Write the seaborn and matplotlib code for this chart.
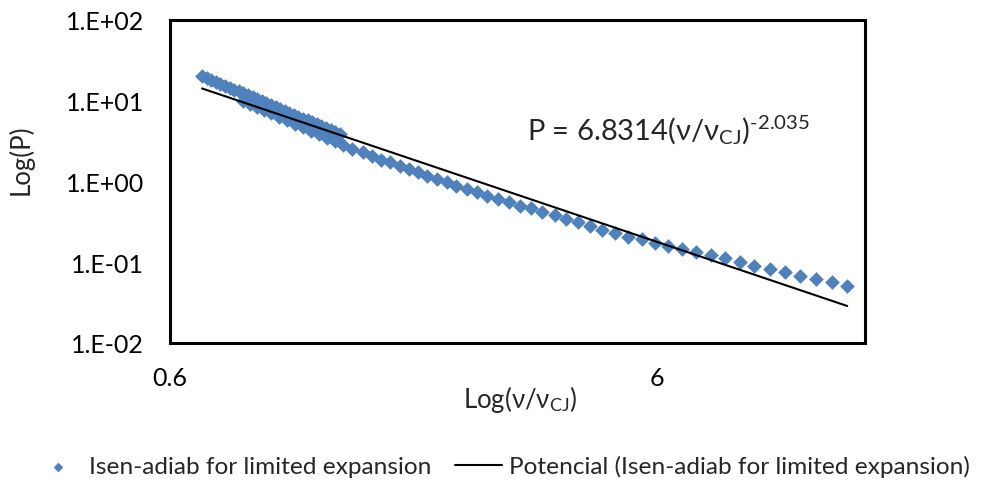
import numpy as np
import pandas as pd
import matplotlib
matplotlib.use("Agg")
import matplotlib.pyplot as plt
from matplotlib.ticker import NullLocator
import seaborn as sns

# ---- data ----
upper_x = [0.698, 0.713, 0.729, 0.745, 0.761, 0.778, 0.795, 0.812, 0.830, 0.848,
           0.867, 0.886, 0.905, 0.925, 0.946, 0.966, 0.988, 1.009, 1.031, 1.054,
           1.077, 1.101, 1.125, 1.150, 1.175, 1.201, 1.227, 1.254, 1.281, 1.310, 1.338]
upper_p = [20.25, 19.16, 18.14, 17.16, 16.24, 15.37, 14.55, 13.77, 13.03, 12.33,
           11.67, 11.04, 10.45, 9.89, 9.36, 8.86, 8.38, 7.93, 7.51, 7.10,
           6.72, 6.36, 6.02, 5.70, 5.39, 5.10, 4.83, 4.57, 4.33, 4.09, 3.875]
lower_x = [0.847, 0.875, 0.905, 0.935, 0.966, 1.004, 1.042, 1.082, 1.124, 1.167,
           1.212, 1.259, 1.307, 1.357, 1.416, 1.494, 1.561, 1.629, 1.700, 1.776,
           1.856, 1.937, 2.021, 2.118, 2.221, 2.321, 2.440, 2.558, 2.681, 2.824,
           2.975, 3.129, 3.307, 3.483, 3.691, 3.900, 4.119, 4.368, 4.629, 4.921,
           5.233, 5.589, 5.943, 6.319, 6.751, 7.212, 7.742, 8.271, 8.879, 9.483,
           10.23, 10.98, 11.78, 12.70, 13.70, 14.71]
lower_p = [9.93, 9.09, 8.32, 7.64, 6.99, 6.33, 5.71, 5.17, 4.68, 4.23,
           3.83, 3.46, 3.13, 2.83, 2.526, 2.299, 2.051, 1.862, 1.729, 1.569,
           1.428, 1.300, 1.180, 1.074, 0.977, 0.887, 0.808, 0.735, 0.667, 0.607,
           0.553, 0.502, 0.466, 0.423, 0.385, 0.343, 0.313, 0.284, 0.254, 0.228,
           0.207, 0.192, 0.175, 0.159, 0.147, 0.134, 0.124, 0.112, 0.0999, 0.0907,
           0.0825, 0.0751, 0.0682, 0.0620, 0.0574, 0.0512]
fit_coef = 6.8314
fit_exp = "-2.035"
x_ticks = [0.6, 6]
x_tick_labels = ["0.6", "6"]
y_ticks = [1e-2, 1e-1, 1e0, 1e1, 1e2]
y_tick_labels = ["1.E-02", "1.E-01", "1.E+00", "1.E+01", "1.E+02"]
series_name = "Isen-adiab for limited expansion"
trend_name = "Potencial (Isen-adiab for limited expansion)"

df = pd.DataFrame({"x": upper_x + lower_x, "p": upper_p + lower_p})

sns.set_style("white")
plt.rcParams["font.family"] = ["Lato", "DejaVu Sans"]
plt.rcParams["mathtext.fontset"] = "custom"
plt.rcParams["mathtext.rm"] = "Lato"
plt.rcParams["mathtext.it"] = "Lato:italic"
plt.rcParams["mathtext.bf"] = "Lato:bold"

FS = 18
fig = plt.figure(figsize=(9.89, 4.81), dpi=100)
ax = fig.add_axes([170 / 989, 1 - 344 / 481, 695 / 989, 323 / 481])

sns.scatterplot(data=df, x="x", y="p", marker="D", s=56, color="#4F81BD",
                linewidth=0, ax=ax, label=series_name, zorder=2)
xf = np.geomspace(df["x"].min(), df["x"].max(), 50)
sns.lineplot(x=xf, y=fit_coef * xf ** float(fit_exp), color="black",
             linewidth=1.5, ax=ax, label=trend_name, zorder=3)

ax.set_xscale("log")
ax.set_yscale("log")
ax.set_xlim(0.6, 16)
ax.set_ylim(1e-2, 1e2)
ax.set_xticks(x_ticks, x_tick_labels)
ax.set_yticks(y_ticks, y_tick_labels)
ax.xaxis.set_minor_locator(NullLocator())
ax.yaxis.set_minor_locator(NullLocator())
ax.tick_params(direction="inout", length=11.5, width=1.5, labelsize=FS,
               colors="black")
ax.tick_params(axis="y", pad=13)
ax.tick_params(axis="x", pad=11)
for sp in ax.spines.values():
    sp.set_visible(True)
    sp.set_color("black")
    sp.set_linewidth(2.2)

ax.set_xlabel(r"Log(ν/ν$_{\mathregular{CJ}}$)", fontsize=18.5)
ax.set_ylabel("Log(P)", fontsize=18.5)
ax.xaxis.set_label_coords(0.504, -0.125)
ax.yaxis.set_label_coords(-0.196, 0.57)

exp_txt = fit_exp.replace("-", "\u2010")
eq = f"P = {fit_coef}(ν/ν$_{{\\mathregular{{CJ}}}}$)$^{{\\mathregular{{{exp_txt}}}}}$"
ax.text(0.514, 0.66, eq, transform=ax.transAxes, fontsize=21,
        ha="left", va="center")

handles, labels = ax.get_legend_handles_labels()
ax.get_legend().remove()
fig.legend(handles, labels, loc="center", bbox_to_anchor=(0.508, 0.029),
           ncol=2, frameon=False, fontsize=17.6, handlelength=1.9,
           handletextpad=0.3, columnspacing=1.0, markerscale=0.65,
           borderaxespad=0, borderpad=0)

fig.savefig("out.png", dpi=100)
